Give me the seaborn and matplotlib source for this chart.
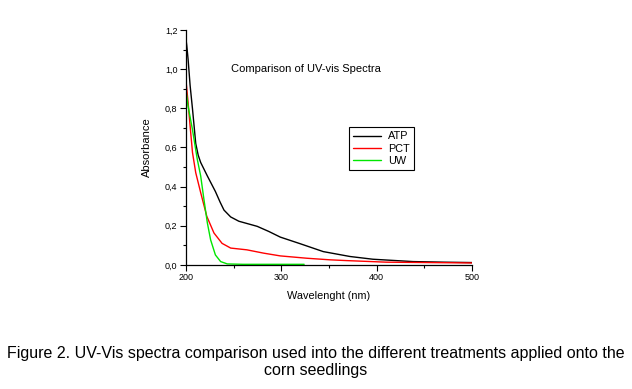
import pandas as pd
import seaborn as sns
import matplotlib.pyplot as plt
from matplotlib.ticker import FuncFormatter, MultipleLocator

# values
ATP_WAVELENGTH = [200, 201, 202.4, 204.5, 207, 210.4, 213, 215.6, 222.6, 231, 236, 240, 247,
                  255.6, 274.8, 286.9, 299, 320, 344, 372, 396, 438, 470, 500]
ATP_ABSORBANCE = [1.16, 1.12, 1.05, 0.917, 0.797, 0.62, 0.56, 0.523, 0.454, 0.375, 0.32, 0.28,
                  0.245, 0.223, 0.197, 0.171, 0.142, 0.108, 0.068, 0.043, 0.029, 0.017,
                  0.014, 0.012]

PCT_WAVELENGTH = [200, 202.4, 204.5, 207, 210.4, 215.6, 222, 229.5, 238, 247, 264,
                  281.6, 299, 327, 351, 368.6, 410, 500]
PCT_ABSORBANCE = [0.95, 0.83, 0.71, 0.574, 0.471, 0.369, 0.248, 0.163, 0.11, 0.086, 0.077,
                  0.06, 0.046, 0.034, 0.026, 0.022, 0.014, 0.01]

UW_WAVELENGTH = [200, 202.4, 207, 212, 215.6, 219, 222.6, 226, 231, 236.5, 243.5, 260, 324]
UW_ABSORBANCE = [0.9, 0.81, 0.69, 0.54, 0.454, 0.334, 0.214, 0.128, 0.051, 0.017, 0.005,
                 0.003, 0.003]

TREATMENTS = ["ATP", "PCT", "UW"]
COLORS = ["#000000", "#ff0000", "#00e600"]

CAPTION = ("Figure 2. UV-Vis spectra comparison used into the different treatments applied onto the\n"
           "corn seedlings")


def build_spectra_dataframe() -> pd.DataFrame:
    frames = []
    for name, wl, ab in zip(
        TREATMENTS,
        [ATP_WAVELENGTH, PCT_WAVELENGTH, UW_WAVELENGTH],
        [ATP_ABSORBANCE, PCT_ABSORBANCE, UW_ABSORBANCE],
    ):
        frames.append(pd.DataFrame({"Wavelength": wl, "Absorbance": ab, "Treatment": name}))
    return pd.concat(frames, ignore_index=True)


sns.set_style("ticks")
plt.rcParams["font.family"] = ["Liberation Sans", "DejaVu Sans"]
for key in ["text.color", "axes.labelcolor", "xtick.color", "ytick.color", "axes.edgecolor"]:
    plt.rcParams[key] = "black"

spectra = build_spectra_dataframe()

figure = plt.figure(figsize=(6.32, 3.89), dpi=100)
axes = figure.add_axes([0.294, 0.319, 0.453, 0.604])

sns.lineplot(
    data=spectra,
    x="Wavelength",
    y="Absorbance",
    hue="Treatment",
    palette=dict(zip(TREATMENTS, COLORS)),
    estimator=None,
    sort=False,
    linewidth=1.0,
    ax=axes,
)

axes.set_xlim(200, 500)
axes.set_ylim(0, 1.2)
axes.xaxis.set_major_locator(MultipleLocator(100))
axes.xaxis.set_minor_locator(MultipleLocator(50))
axes.yaxis.set_major_locator(MultipleLocator(0.2))
axes.yaxis.set_minor_locator(MultipleLocator(0.1))
axes.yaxis.set_major_formatter(FuncFormatter(lambda v, p: f"{v:.1f}".replace(".", ",")))
axes.tick_params(which="major", length=4, width=0.8, labelsize=6.5, pad=2)
axes.tick_params(which="minor", length=2.5, width=0.8)
sns.despine(ax=axes)
for spine in axes.spines.values():
    spine.set_linewidth(0.9)

axes.set_xlabel("Wavelenght (nm)", fontsize=7.8, labelpad=6)
axes.set_ylabel("Absorbance", fontsize=8, labelpad=9)

figure.text(0.484, 0.823, "Comparison of UV-vis Spectra", fontsize=8,
            ha="center", va="center")

legend = axes.legend(
    loc="upper left",
    bbox_to_anchor=(349 / 632, 1 - 127 / 389),
    bbox_transform=figure.transFigure,
    fontsize=7.8,
    frameon=True,
    fancybox=False,
    edgecolor="black",
    framealpha=1,
    handlelength=2.6,
    handletextpad=0.6,
    labelspacing=0.2,
    borderpad=0.4,
    borderaxespad=0,
)
legend.get_frame().set_linewidth(0.8)

figure.text(0.5, 1 - 362 / 389, CAPTION, fontsize=11.5, ha="center", va="center",
            linespacing=1.15)

figure.savefig("out.png", dpi=100)
